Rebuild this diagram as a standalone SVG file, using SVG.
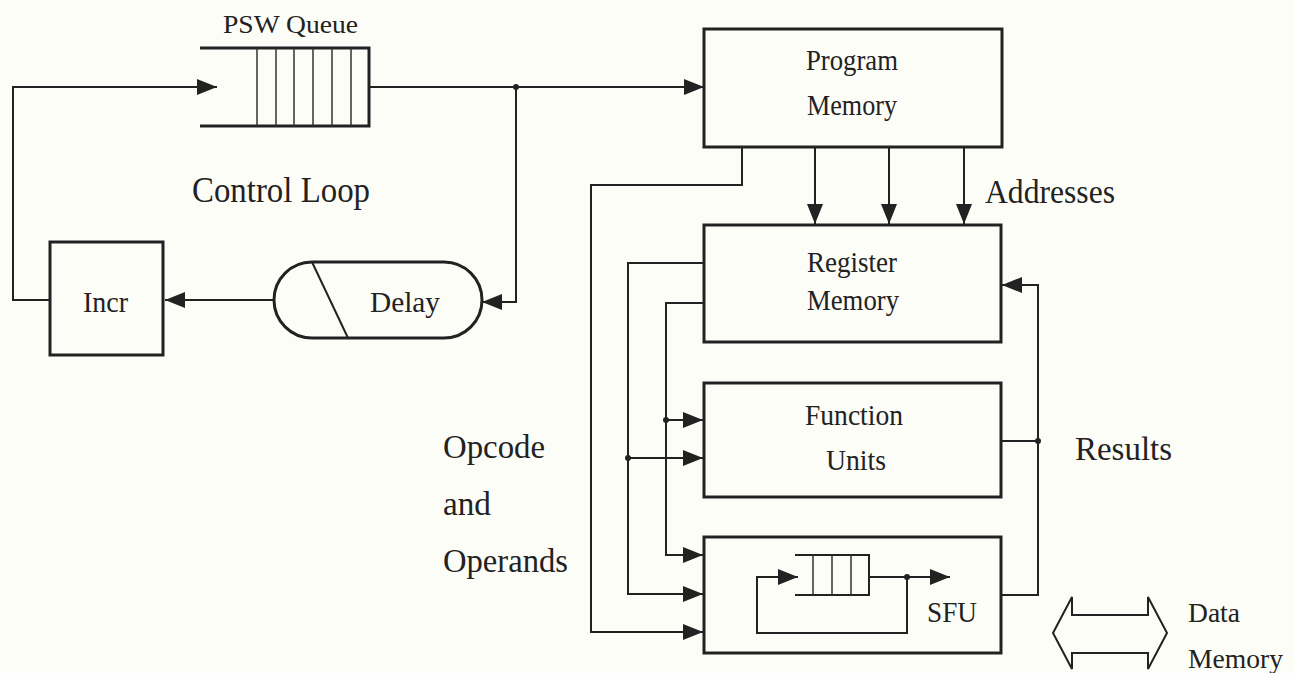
<svg xmlns="http://www.w3.org/2000/svg" width="1295" height="673" viewBox="0 0 1295 673">
<defs>
<marker id="arr" viewBox="0 0 20 16" markerWidth="20" markerHeight="16" refX="20" refY="8" orient="auto" markerUnits="userSpaceOnUse">
<path d="M0,0 L20,8 L0,16 Z" fill="#222"/>
</marker>
<style>
.box{fill:none;stroke:#222;stroke-width:3}
.ln{fill:none;stroke:#222;stroke-width:2}
.thin{fill:none;stroke:#333;stroke-width:1.5}
.t{font-family:"Liberation Serif","Times New Roman",serif;fill:#222}
.dot{fill:#222}
</style>
</defs>
<rect width="1295" height="673" fill="#fdfdf8"/>

<g id="psw-queue">
<path class="box" d="M200,48 H369 V126 H200"/>
<path class="thin" d="M257,48 V126 M276,48 V126 M294,48 V126 M313,48 V126 M332,48 V126 M351,48 V126"/>
<text class="t" x="223" y="33" font-size="25" textLength="135" lengthAdjust="spacingAndGlyphs">PSW Queue</text>
</g>

<g id="program-memory">
<rect class="box" x="704" y="29" width="298" height="118"/>
<text class="t" x="806" y="70" font-size="29" textLength="92" lengthAdjust="spacingAndGlyphs">Program</text>
<text class="t" x="807" y="115" font-size="29" textLength="90" lengthAdjust="spacingAndGlyphs">Memory</text>
</g>

<g id="incr">
<rect class="box" x="50" y="242" width="113" height="113"/>
<text class="t" x="83" y="312" font-size="29" textLength="45" lengthAdjust="spacingAndGlyphs">Incr</text>
</g>

<g id="delay">
<path class="box" d="M312,262 H444 A38,38 0 0 1 444,338 H312 A38,38 0 0 1 312,262 Z"/>
<path class="ln" d="M312,262 L348,338"/>
<text class="t" x="370" y="312" font-size="29" textLength="70" lengthAdjust="spacingAndGlyphs">Delay</text>
</g>

<g id="register-memory">
<rect class="box" x="704" y="225" width="297" height="117"/>
<text class="t" x="807" y="272" font-size="29" textLength="90" lengthAdjust="spacingAndGlyphs">Register</text>
<text class="t" x="807" y="310" font-size="29" textLength="92" lengthAdjust="spacingAndGlyphs">Memory</text>
</g>

<g id="function-units">
<rect class="box" x="704" y="383" width="297" height="114"/>
<text class="t" x="805" y="425" font-size="29" textLength="98" lengthAdjust="spacingAndGlyphs">Function</text>
<text class="t" x="826" y="470" font-size="29" textLength="60" lengthAdjust="spacingAndGlyphs">Units</text>
</g>

<g id="sfu">
<rect class="box" x="704" y="537" width="297" height="116"/>
<path class="ln" d="M795,555 H869 V595 H795"/>
<path class="thin" d="M813,555 V595 M832,555 V595 M851,555 V595"/>
<path class="ln" d="M907,577 V633 H757 V577 H798" marker-end="url(#arr)"/>
<path class="ln" d="M869,577 H950" marker-end="url(#arr)"/>
<circle class="dot" cx="907" cy="577" r="3"/>
<text class="t" x="927" y="622" font-size="29" textLength="50" lengthAdjust="spacingAndGlyphs">SFU</text>
</g>

<g id="data-memory">
<path class="ln" d="M1053,633 L1072,597 V615 H1148 V597 L1167,633 L1148,669 V653 H1072 V669 Z"/>
<text class="t" x="1188" y="622" font-size="28" textLength="52" lengthAdjust="spacingAndGlyphs">Data</text>
<text class="t" x="1188" y="668" font-size="28" textLength="95" lengthAdjust="spacingAndGlyphs">Memory</text>
</g>

<g id="labels">
<text class="t" x="192" y="202" font-size="35" textLength="178" lengthAdjust="spacingAndGlyphs">Control Loop</text>
<text class="t" x="985" y="203" font-size="33" textLength="130" lengthAdjust="spacingAndGlyphs">Addresses</text>
<text class="t" x="1075" y="460" font-size="34" textLength="97" lengthAdjust="spacingAndGlyphs">Results</text>
<text class="t" x="443" y="458" font-size="33" textLength="102" lengthAdjust="spacingAndGlyphs">Opcode</text>
<text class="t" x="443" y="515" font-size="33" textLength="48" lengthAdjust="spacingAndGlyphs">and</text>
<text class="t" x="443" y="572" font-size="33" textLength="125" lengthAdjust="spacingAndGlyphs">Operands</text>
</g>

<g id="connectors">
<path class="ln" d="M50,300 H13 V87 H217" marker-end="url(#arr)"/>
<path class="ln" d="M369,87 H704" marker-end="url(#arr)"/>
<path class="ln" d="M516,87 V302 H482" marker-end="url(#arr)"/>
<circle class="dot" cx="516" cy="87" r="3"/>
<path class="ln" d="M274,300 H165" marker-end="url(#arr)"/>
<path class="ln" d="M815,147 V224" marker-end="url(#arr)"/>
<path class="ln" d="M889,147 V224" marker-end="url(#arr)"/>
<path class="ln" d="M964,147 V224" marker-end="url(#arr)"/>
<path class="ln" d="M742,147 V185 H591 V632 H703" marker-end="url(#arr)"/>
<path class="ln" d="M704,263 H628 V594 H703" marker-end="url(#arr)"/>
<path class="ln" d="M628,458 H703" marker-end="url(#arr)"/>
<circle class="dot" cx="628" cy="458" r="3"/>
<path class="ln" d="M704,303 H666 V555 H703" marker-end="url(#arr)"/>
<path class="ln" d="M666,420 H703" marker-end="url(#arr)"/>
<circle class="dot" cx="666" cy="420" r="3"/>
<path class="ln" d="M1001,595 H1038 V285 H1002" marker-end="url(#arr)"/>
<path class="ln" d="M1001,441 H1038"/>
<circle class="dot" cx="1038" cy="441" r="3"/>
</g>
</svg>
